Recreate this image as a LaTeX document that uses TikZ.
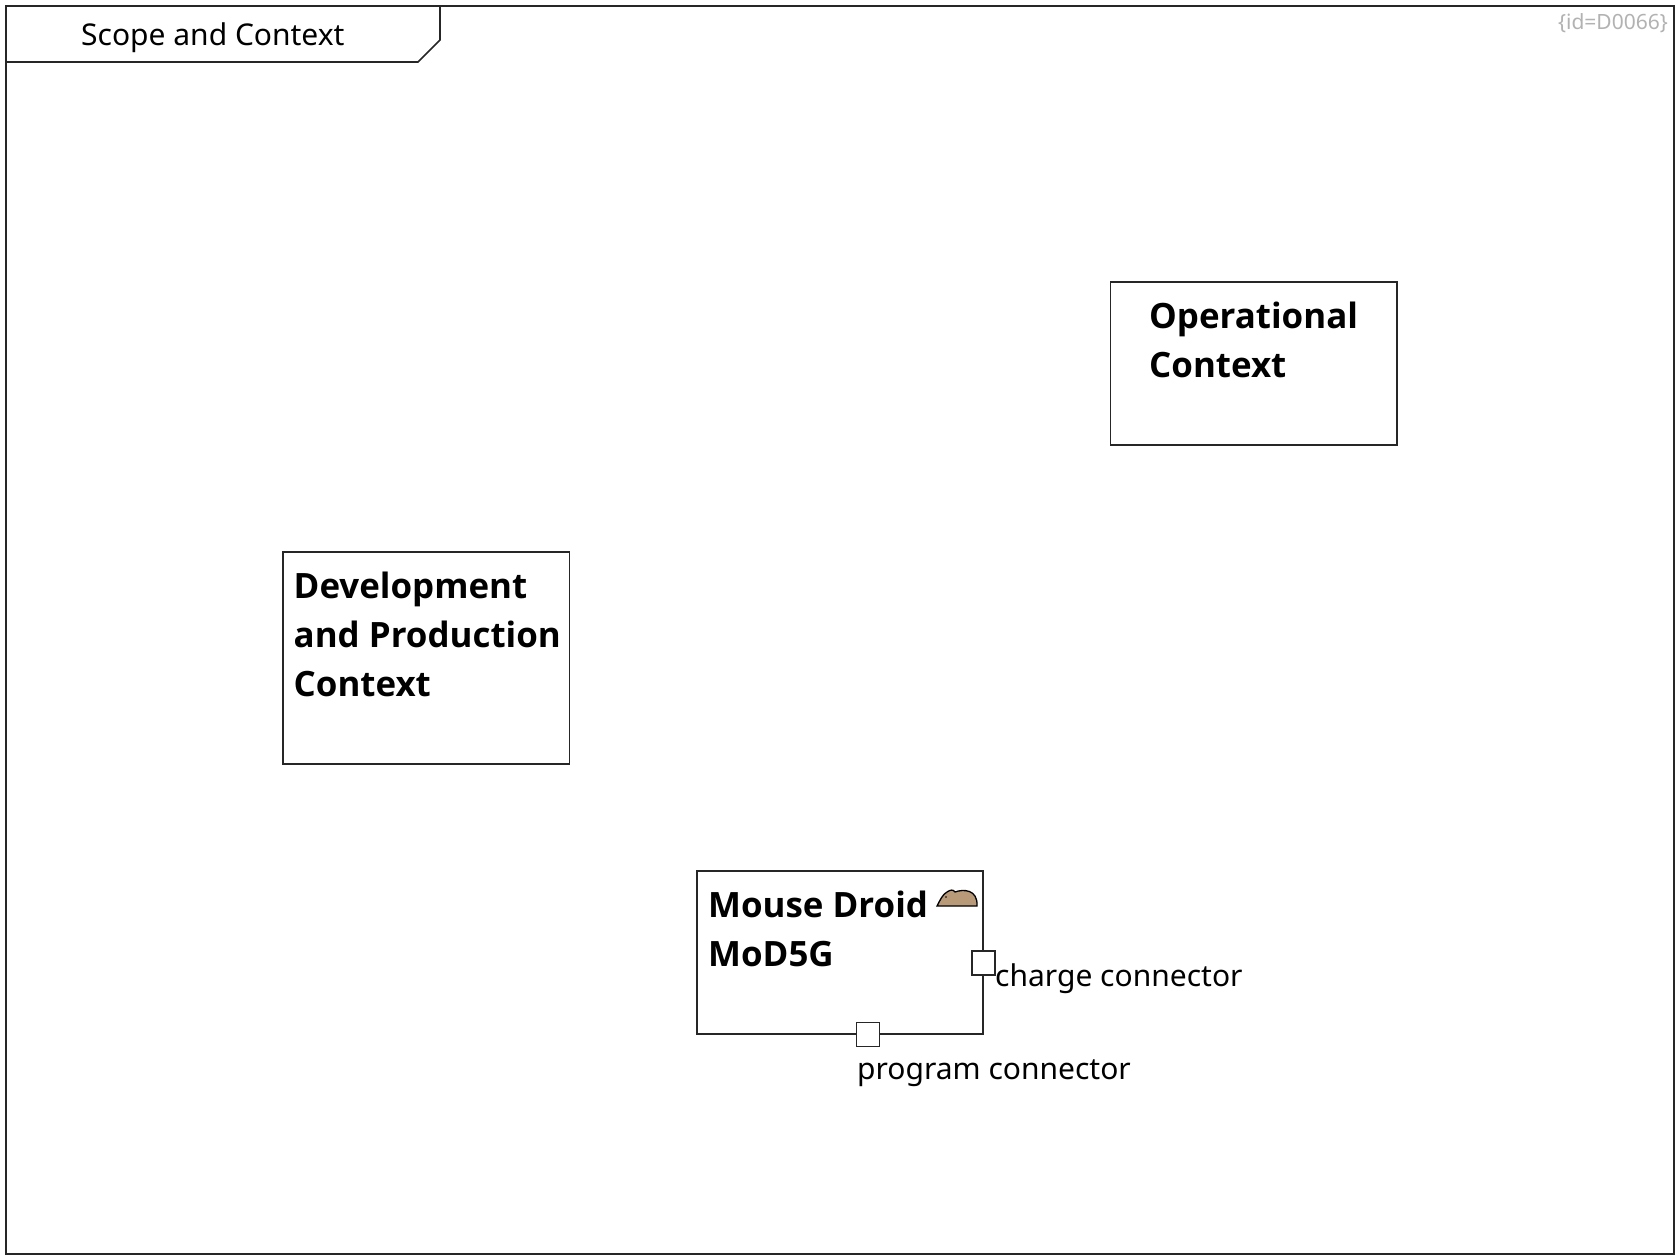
\documentclass[tikz,border=0pt]{standalone}
\usepackage{fontspec}
\setmainfont{Noto Sans}
\newfontfamily\blockfont{Open Sans}
\usetikzlibrary{positioning}

\tikzset{
    blockbox/.style={draw=black!85,line width=1.7pt,fill=white,inner sep=0pt},
    blocktext/.style={inner sep=0pt,anchor=north west,align=left,font=\blockfont\fontsize{34.9}{49}\selectfont\bfseries},
    portbox/.style={blockbox,minimum width=23pt,minimum height=24pt},
    portlabel/.style={inner sep=0pt,anchor=base west,font=\fontsize{30}{40}\selectfont}
}

\begin{document}
\begin{tikzpicture}[x=1pt,y=-1pt]
                \useasboundingbox (0,0) rectangle (1680,1260);
                % the frame and its tab
                \node[blockbox,minimum width=1667.5pt,minimum height=1247.5pt] (frame) at (840,630) {};
                \draw[black!85,line width=1.7pt] (6.4,62) -- (418,62) -- (440,40) -- (440,6.4);
                \node[portlabel] (title) at (81,46) {Scope and Context};
                \node[inner sep=0pt,anchor=base east,text=black!30,font=\fontsize{21}{26}\selectfont] (diagramid) at (1668,30) {\{id=D0066\}};
                % Blocks
                \node[blockbox,minimum width=286.5pt,minimum height=163pt] (operational) at (1253.7,363.5) {};
                \node[blocktext] (operationaltext) at (1149,301.7) {Operational\\Context};
                \node[blockbox,minimum width=286.5pt,minimum height=212pt] (development) at (426.3,658) {};
                \node[blocktext] (developmenttext) at (293.5,571.7) {Development\\and Production\\Context};
                \node[blockbox,minimum width=286.5pt,minimum height=163pt] (droid) at (840,952.5) {};
                \node[blocktext] (droidtext) at (708,890.7) {Mouse Droid\\MoD5G};
                % the mouse
                \draw[black,line width=1.3pt,fill={rgb,255:red,185;green,154;blue,120}]
                    (937,906) .. controls (940,900) and (943,894) .. (947,892)
                    .. controls (950,890) and (953,889) .. (955,892)
                    .. controls (963,889) and (978,889) .. (977,906) -- cycle;
                \fill (946,897) circle (0.8pt);
                % Ports
                \node[portbox] (chargeport) at (983.5,963) {};
                \node[portlabel] (chargelabel) at (995,986) {charge connector};
                \node[portbox] (programport) at (868,1034.5) {};
                \node[portlabel] (programlabel) at (857,1079) {program connector};
            \end{tikzpicture}
\end{document}
